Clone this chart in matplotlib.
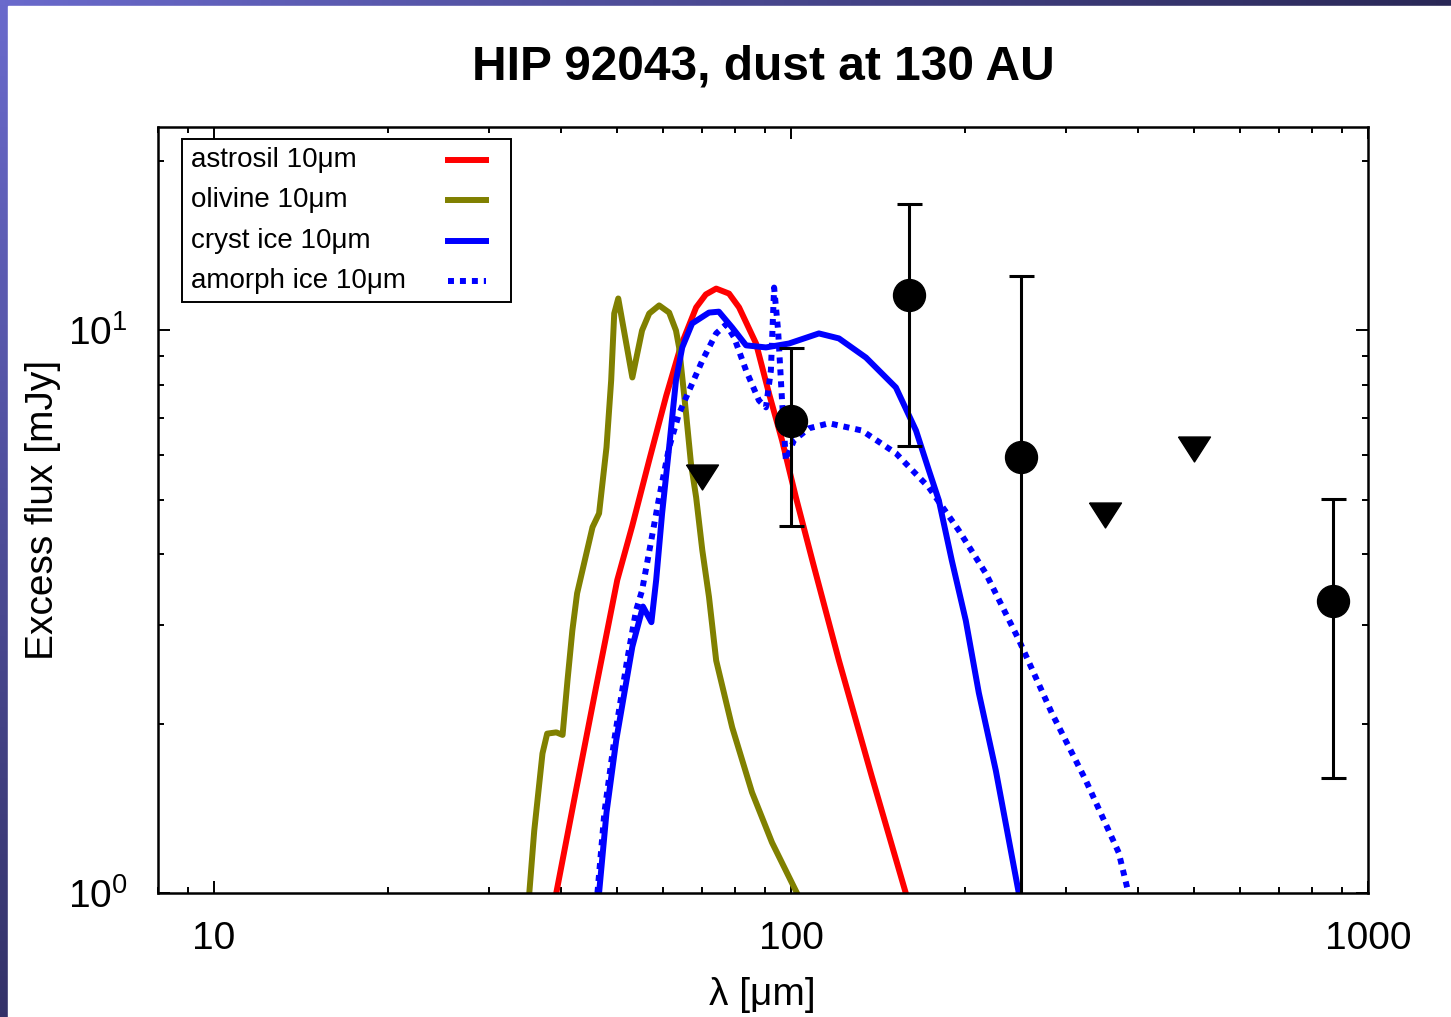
import numpy as np
import matplotlib
matplotlib.use('Agg')
import matplotlib.pyplot as plt
from matplotlib.patches import Rectangle
from matplotlib.lines import Line2D
from matplotlib.ticker import FixedLocator, FixedFormatter, LogLocator, NullFormatter

plt.rcParams['font.family'] = ['Liberation Sans', 'DejaVu Sans']

# model SEDs: wavelength [um], excess flux [mJy]
astrosil_wl = [39.2, 42.4, 45.9, 50.0, 53.1, 56.8, 60.8, 64.5, 68.5, 71.2, 74.2, 78.1,
               81.3, 87.0, 91.6, 96.5, 102.0, 109.2, 121.1, 138.1, 158.1]
astrosil_f = [1.0, 1.52, 2.31, 3.60, 4.50, 5.88, 7.66, 9.41, 10.99, 11.59, 11.87, 11.63,
              10.99, 9.48, 7.73, 6.38, 5.05, 3.86, 2.59, 1.61, 1.0]

olivine_wl = [35.2, 35.9, 37.1, 37.8, 39.2, 40.2, 41.0, 41.8, 42.6, 45.3, 46.5, 47.9, 48.8,
              49.4, 50.2, 53.1, 55.2, 56.8, 59.1, 61.5, 63.2, 64.0, 65.8, 67.1, 68.5, 70.2,
              72.1, 74.2, 79.1, 85.6, 92.7, 102.4]
olivine_f = [1.0, 1.29, 1.77, 1.92, 1.93, 1.91, 2.39, 2.93, 3.41, 4.47, 4.73, 6.20, 8.15,
             10.72, 11.40, 8.25, 10.0, 10.72, 11.08, 10.76, 10.0, 9.33, 7.12, 5.80, 5.05, 4.07,
             3.36, 2.59, 1.97, 1.51, 1.23, 1.0]

cryst_wl = [46.5, 47.9, 49.8, 53.1, 55.4, 57.3, 58.4, 59.8, 61.5, 63.2, 64.8, 67.4, 72.1,
            75.0, 79.1, 83.6, 90.5, 99.2, 111.8, 121.1, 134.9, 152.0, 164.7, 173.4, 180.4,
            190.0, 200.9, 211.6, 226.5, 248.2]
cryst_f = [1.0, 1.39, 1.87, 2.74, 3.23, 3.03, 3.60, 4.73, 6.20, 8.15, 9.33, 10.29, 10.76,
           10.8, 10.12, 9.41, 9.33, 9.48, 9.88, 9.68, 8.95, 7.92, 6.64, 5.64, 4.99,
           3.90, 3.05, 2.27, 1.65, 1.0]

amorph_wl = [46.2, 47.5, 49.4, 52.0, 53.9, 55.2, 59.1, 61.5, 64.0, 66.6, 70.2, 74.2, 77.2,
             79.7, 83.6, 88.0, 90.5, 92.3, 93.5, 95.0, 96.5, 98.0, 101.2, 107.4, 116.4,
             132.7, 152.0, 173.4, 195.4, 217.6, 248.2, 283.1, 323.9, 369.8, 384.5]
amorph_f = [1.0, 1.39, 1.87, 2.59, 3.18, 3.45, 5.05, 6.20, 7.12, 7.82, 8.84, 9.88, 10.25,
            9.72, 8.49, 7.51, 7.30, 8.49, 11.92, 10.0, 7.51, 5.88, 6.38, 6.70, 6.84,
            6.64, 6.05, 5.26, 4.41, 3.70, 2.82, 2.09, 1.59, 1.18, 1.0]

labels = ['astrosil 10\u03bcm', 'olivine 10\u03bcm', 'cryst ice 10\u03bcm', 'amorph ice 10\u03bcm']
colors = ['#ff0000', '#808000', '#0000ff', '#0000ff']
styles = ['-', '-', '-', (0, (1, 1))]

# photometry with error bars
phot_wl = [100, 160, 250, 870]
phot_f = [6.89, 11.54, 5.95, 3.30]
phot_lo = [4.49, 6.22, 0.5, 1.60]   # 250um lower bound is below the plot
phot_hi = [9.29, 16.8, 12.5, 5.01]

# upper limits
lim_wl = [70, 350, 500]
lim_f = [5.50, 4.70, 6.16]

title = 'HIP 92043, dust at 130 AU'
xticks = [10, 100, 1000]
xticklabels = ['10', '100', '1000']

W, H = 1451, 1017
fig = plt.figure(figsize=(W / 100, H / 100), dpi=100)

# slide background peeking out on top / left
bg = fig.add_axes([0, 0, 1, 1])
gx, gy = np.meshgrid(np.linspace(0, 1, 300), np.linspace(0, 1, 200))
t = np.clip(0.95 * gx + 0.8 * gy, 0, 1)[..., None]
light = np.array([106, 106, 204]) / 255
dark = np.array([38, 36, 80]) / 255
bg.imshow(light * (1 - t) + dark * t, extent=[0, 1, 0, 1], origin='upper', aspect='auto')
bg.add_patch(Rectangle((8 / W, 0), 1, 1 - 6 / H, color='white', zorder=2))
bg.set_xlim(0, 1)
bg.set_ylim(0, 1)
bg.axis('off')

ax = fig.add_axes([158 / W, 1 - 893 / H, 1210 / W, 766 / H])
ax.set_xscale('log')
ax.set_yscale('log')

series = [(astrosil_wl, astrosil_f), (olivine_wl, olivine_f),
          (cryst_wl, cryst_f), (amorph_wl, amorph_f)]
for (wl, f), c, ls in zip(series, colors, styles):
    ax.plot(wl, f, color=c, linestyle=ls, linewidth=4.3, solid_joinstyle='round',
            dash_capstyle='butt')

pf = np.array(phot_f)
yerr = [pf - np.array(phot_lo), np.array(phot_hi) - pf]
ax.errorbar(phot_wl, phot_f, yerr=yerr, fmt='o', color='black', markersize=23,
            elinewidth=2.2, capsize=9, capthick=2.2, zorder=5)

tri = [(-1, 0.78), (1, 0.78), (0, -0.78), (-1, 0.78)]
ax.plot(lim_wl, lim_f, linestyle='none', marker=tri, markersize=23, color='black', zorder=5)

ax.set_xlim(8, 1000)
ax.set_ylim(1, 23)

ax.xaxis.set_major_locator(FixedLocator(xticks))
ax.xaxis.set_major_formatter(FixedFormatter(xticklabels))
ax.xaxis.set_minor_locator(LogLocator(base=10, subs=np.arange(2, 10)))
ax.xaxis.set_minor_formatter(NullFormatter())
ax.yaxis.set_minor_locator(LogLocator(base=10, subs=np.arange(2, 10)))
ax.yaxis.set_minor_formatter(NullFormatter())

ax.tick_params(which='both', direction='in', top=True, right=True, width=1.4,
               labelsize=28)
ax.tick_params(which='major', length=8.5)
ax.tick_params(which='minor', length=4.3)
ax.tick_params(axis='x', pad=20)
ax.tick_params(axis='y', pad=22)
for s in ax.spines.values():
    s.set_linewidth(1.8)

# gnuplot-style key: text left, sample right
ax.add_patch(Rectangle((0.0198, 0.7715), 0.2719, 0.2128, transform=ax.transAxes,
                       facecolor='white', edgecolor='black', linewidth=1.4, zorder=6))
rows = [0.9569, 0.9047, 0.8512, 0.7990]
for lab, c, ls, yy in zip(labels, colors, styles, rows):
    ax.text(0.0273, yy, lab, transform=ax.transAxes, fontsize=20, ha='left', va='center',
            zorder=7)
    ax.add_line(Line2D([0.2397, 0.2711], [yy, yy], transform=ax.transAxes, color=c,
                       linestyle=ls, linewidth=4.3, dash_capstyle='butt', zorder=7))

fig.text(763 / W, 1 - 67 / H, title, ha='center', va='center', fontsize=34.5,
         fontweight='bold')
fig.text(43 / W, 1 - 510 / H, 'Excess flux [mJy]', rotation=90, ha='center', va='center',
         fontsize=28)
fig.text(762 / W, 1 - 995 / H, '\u03bb [\u03bcm]', ha='center', va='center', fontsize=28)

fig.savefig('out.png', dpi=100)
